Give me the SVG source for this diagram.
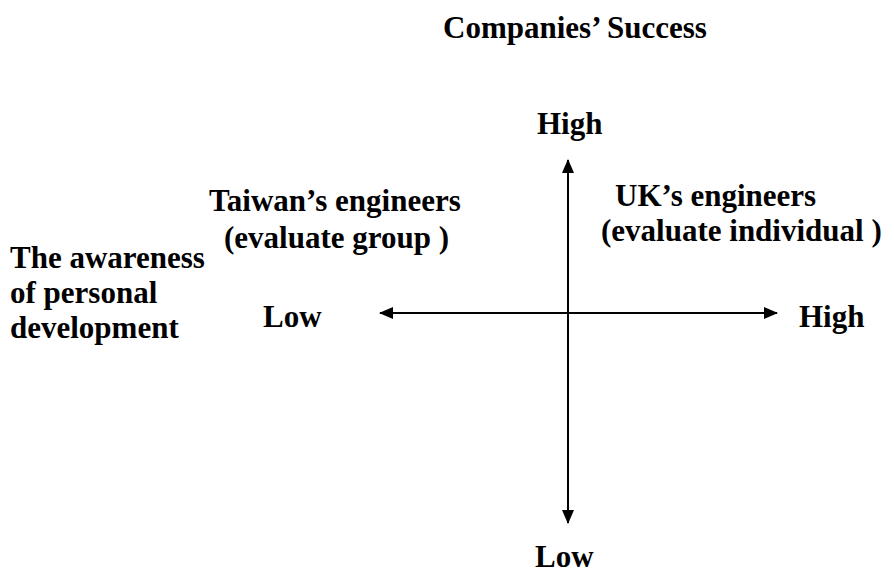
<svg xmlns="http://www.w3.org/2000/svg" width="894" height="578" viewBox="0 0 894 578">
<defs>
<style>
.t text{font-family:"Liberation Serif","Times New Roman",Times,"DejaVu Serif",serif;font-weight:bold;font-size:31px;fill:#000}
.ax{stroke:#000;stroke-width:2;fill:none}
</style>
<marker id="ah" viewBox="0 0 14 12" refX="13" refY="6" markerWidth="14" markerHeight="12" markerUnits="userSpaceOnUse" orient="auto-start-reverse">
<path d="M0,0 L14,6 L0,12 Z" fill="#000"/>
</marker>
</defs>
<rect width="894" height="578" fill="#fff"/>
<g id="connectors">
<line class="ax" x1="568" y1="160" x2="568" y2="523" marker-start="url(#ah)" marker-end="url(#ah)"/>
<line class="ax" x1="380" y1="313" x2="777" y2="313" marker-start="url(#ah)" marker-end="url(#ah)"/>
</g>
<g class="t" font-family="Liberation Serif, Times New Roman, serif">
<g id="title"><text x="443" y="38">Companies’ Success</text></g>
<g id="y-high"><text x="537" y="134">High</text></g>
<g id="y-low"><text x="535" y="567">Low</text></g>
<g id="x-low"><text x="263" y="327">Low</text></g>
<g id="x-high"><text x="799" y="327">High</text></g>
<g id="x-label"><text x="10" y="268">The awareness</text><text x="10" y="303">of personal</text><text x="10" y="338">development</text></g>
<g id="taiwan"><text x="209" y="211">Taiwan’s engineers</text><text x="224" y="248">(evaluate group )</text></g>
<g id="uk"><text x="615" y="206">UK’s engineers</text><text x="601" y="241">(evaluate individual )</text></g>
</g>
</svg>
